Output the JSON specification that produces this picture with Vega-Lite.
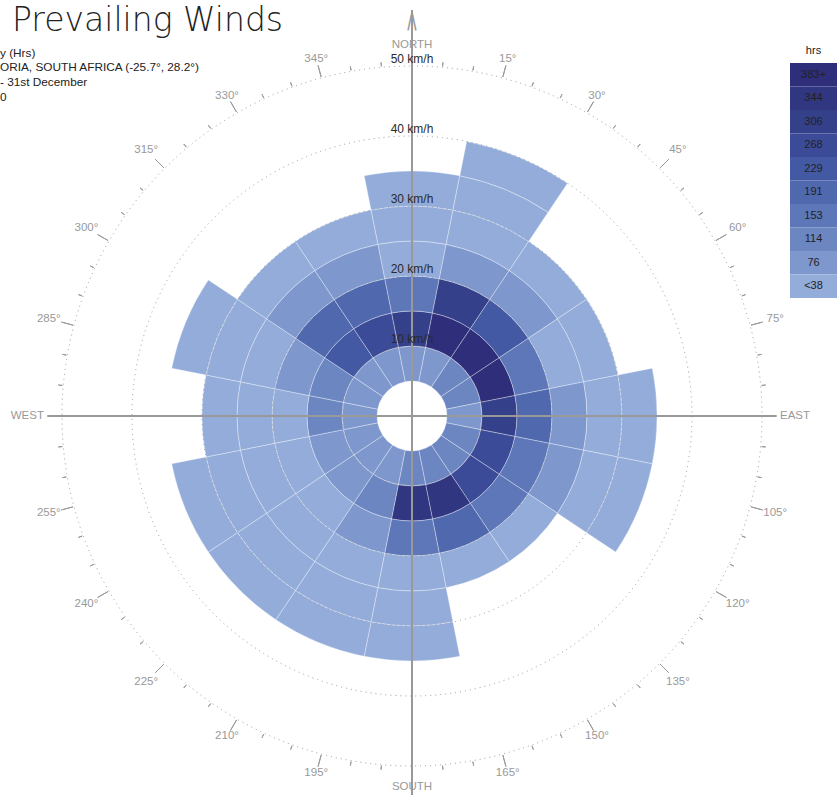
{
  "$schema": "https://vega.github.io/schema/vega-lite/v6.json",
  "width": 824,
  "height": 832,
  "autosize": {"type": "none"},
  "padding": {"left": 0, "top": 0, "right": 13, "bottom": 0},
  "background": "white",
  "config": {"view": {"stroke": null}, "font": "Liberation Sans"},
  "data": {"values": [{}]},
  "datasets": {
    "cells": [
      {"dir": 0, "lo": 5, "hi": 10, "hrs": 62}, {"dir": 0, "lo": 10, "hi": 15, "hrs": 292}, {"dir": 0, "lo": 15, "hi": 20, "hrs": 138}, {"dir": 0, "lo": 20, "hi": 25, "hrs": 34}, {"dir": 0, "lo": 25, "hi": 30, "hrs": 22}, {"dir": 0, "lo": 30, "hi": 35, "hrs": 14},
      {"dir": 22.5, "lo": 5, "hi": 10, "hrs": 70}, {"dir": 22.5, "lo": 10, "hi": 15, "hrs": 420}, {"dir": 22.5, "lo": 15, "hi": 20, "hrs": 300}, {"dir": 22.5, "lo": 20, "hi": 25, "hrs": 56}, {"dir": 22.5, "lo": 25, "hi": 30, "hrs": 30}, {"dir": 22.5, "lo": 30, "hi": 35, "hrs": 20}, {"dir": 22.5, "lo": 35, "hi": 40, "hrs": 12},
      {"dir": 45, "lo": 5, "hi": 10, "hrs": 98}, {"dir": 45, "lo": 10, "hi": 15, "hrs": 398}, {"dir": 45, "lo": 15, "hi": 20, "hrs": 215}, {"dir": 45, "lo": 20, "hi": 25, "hrs": 64}, {"dir": 45, "lo": 25, "hi": 30, "hrs": 28},
      {"dir": 67.5, "lo": 5, "hi": 10, "hrs": 92}, {"dir": 67.5, "lo": 10, "hi": 15, "hrs": 405}, {"dir": 67.5, "lo": 15, "hi": 20, "hrs": 140}, {"dir": 67.5, "lo": 20, "hi": 25, "hrs": 36}, {"dir": 67.5, "lo": 25, "hi": 30, "hrs": 18},
      {"dir": 90, "lo": 5, "hi": 10, "hrs": 72}, {"dir": 90, "lo": 10, "hi": 15, "hrs": 288}, {"dir": 90, "lo": 15, "hi": 20, "hrs": 180}, {"dir": 90, "lo": 20, "hi": 25, "hrs": 58}, {"dir": 90, "lo": 25, "hi": 30, "hrs": 26}, {"dir": 90, "lo": 30, "hi": 35, "hrs": 15},
      {"dir": 112.5, "lo": 5, "hi": 10, "hrs": 96}, {"dir": 112.5, "lo": 10, "hi": 15, "hrs": 255}, {"dir": 112.5, "lo": 15, "hi": 20, "hrs": 148}, {"dir": 112.5, "lo": 20, "hi": 25, "hrs": 45}, {"dir": 112.5, "lo": 25, "hi": 30, "hrs": 30}, {"dir": 112.5, "lo": 30, "hi": 35, "hrs": 16},
      {"dir": 135, "lo": 5, "hi": 10, "hrs": 100}, {"dir": 135, "lo": 10, "hi": 15, "hrs": 262}, {"dir": 135, "lo": 15, "hi": 20, "hrs": 140}, {"dir": 135, "lo": 20, "hi": 25, "hrs": 32},
      {"dir": 157.5, "lo": 5, "hi": 10, "hrs": 94}, {"dir": 157.5, "lo": 10, "hi": 15, "hrs": 330}, {"dir": 157.5, "lo": 15, "hi": 20, "hrs": 190}, {"dir": 157.5, "lo": 20, "hi": 25, "hrs": 28},
      {"dir": 180, "lo": 5, "hi": 10, "hrs": 90}, {"dir": 180, "lo": 10, "hi": 15, "hrs": 325}, {"dir": 180, "lo": 15, "hi": 20, "hrs": 145}, {"dir": 180, "lo": 20, "hi": 25, "hrs": 35}, {"dir": 180, "lo": 25, "hi": 30, "hrs": 24}, {"dir": 180, "lo": 30, "hi": 35, "hrs": 12},
      {"dir": 202.5, "lo": 5, "hi": 10, "hrs": 70}, {"dir": 202.5, "lo": 10, "hi": 15, "hrs": 105}, {"dir": 202.5, "lo": 15, "hi": 20, "hrs": 60}, {"dir": 202.5, "lo": 20, "hi": 25, "hrs": 30}, {"dir": 202.5, "lo": 25, "hi": 30, "hrs": 20}, {"dir": 202.5, "lo": 30, "hi": 35, "hrs": 12},
      {"dir": 225, "lo": 5, "hi": 10, "hrs": 65}, {"dir": 225, "lo": 10, "hi": 15, "hrs": 52}, {"dir": 225, "lo": 15, "hi": 20, "hrs": 33}, {"dir": 225, "lo": 20, "hi": 25, "hrs": 25}, {"dir": 225, "lo": 25, "hi": 30, "hrs": 18}, {"dir": 225, "lo": 30, "hi": 35, "hrs": 10},
      {"dir": 247.5, "lo": 5, "hi": 10, "hrs": 56}, {"dir": 247.5, "lo": 10, "hi": 15, "hrs": 48}, {"dir": 247.5, "lo": 15, "hi": 20, "hrs": 36}, {"dir": 247.5, "lo": 20, "hi": 25, "hrs": 26}, {"dir": 247.5, "lo": 25, "hi": 30, "hrs": 17}, {"dir": 247.5, "lo": 30, "hi": 35, "hrs": 9},
      {"dir": 270, "lo": 5, "hi": 10, "hrs": 66}, {"dir": 270, "lo": 10, "hi": 15, "hrs": 100}, {"dir": 270, "lo": 15, "hi": 20, "hrs": 33}, {"dir": 270, "lo": 20, "hi": 25, "hrs": 22}, {"dir": 270, "lo": 25, "hi": 30, "hrs": 14},
      {"dir": 292.5, "lo": 5, "hi": 10, "hrs": 74}, {"dir": 292.5, "lo": 10, "hi": 15, "hrs": 110}, {"dir": 292.5, "lo": 15, "hi": 20, "hrs": 58}, {"dir": 292.5, "lo": 20, "hi": 25, "hrs": 30}, {"dir": 292.5, "lo": 25, "hi": 30, "hrs": 20}, {"dir": 292.5, "lo": 30, "hi": 35, "hrs": 11},
      {"dir": 315, "lo": 5, "hi": 10, "hrs": 75}, {"dir": 315, "lo": 10, "hi": 15, "hrs": 220}, {"dir": 315, "lo": 15, "hi": 20, "hrs": 185}, {"dir": 315, "lo": 20, "hi": 25, "hrs": 52}, {"dir": 315, "lo": 25, "hi": 30, "hrs": 26},
      {"dir": 337.5, "lo": 5, "hi": 10, "hrs": 68}, {"dir": 337.5, "lo": 10, "hi": 15, "hrs": 255}, {"dir": 337.5, "lo": 15, "hi": 20, "hrs": 182}, {"dir": 337.5, "lo": 20, "hi": 25, "hrs": 55}, {"dir": 337.5, "lo": 25, "hi": 30, "hrs": 27}
    ],
    "rings": [{"km": 10}, {"km": 20}, {"km": 30}, {"km": 40}, {"km": 50}],
    "minor": [{"deg": 5}, {"deg": 10}, {"deg": 20}, {"deg": 25}, {"deg": 35}, {"deg": 40}, {"deg": 50}, {"deg": 55}, {"deg": 65}, {"deg": 70}, {"deg": 80}, {"deg": 85}, {"deg": 95}, {"deg": 100}, {"deg": 110}, {"deg": 115}, {"deg": 125}, {"deg": 130}, {"deg": 140}, {"deg": 145}, {"deg": 155}, {"deg": 160}, {"deg": 170}, {"deg": 175}, {"deg": 185}, {"deg": 190}, {"deg": 200}, {"deg": 205}, {"deg": 215}, {"deg": 220}, {"deg": 230}, {"deg": 235}, {"deg": 245}, {"deg": 250}, {"deg": 260}, {"deg": 265}, {"deg": 275}, {"deg": 280}, {"deg": 290}, {"deg": 295}, {"deg": 305}, {"deg": 310}, {"deg": 320}, {"deg": 325}, {"deg": 335}, {"deg": 340}, {"deg": 350}, {"deg": 355}],
    "major": [{"deg": 15}, {"deg": 30}, {"deg": 45}, {"deg": 60}, {"deg": 75}, {"deg": 105}, {"deg": 120}, {"deg": 135}, {"deg": 150}, {"deg": 165}, {"deg": 195}, {"deg": 210}, {"deg": 225}, {"deg": 240}, {"deg": 255}, {"deg": 285}, {"deg": 300}, {"deg": 315}, {"deg": 330}, {"deg": 345}],
    "speeds": [{"km": 10, "label": "10 km/h"}, {"km": 20, "label": "20 km/h"}, {"km": 30, "label": "30 km/h"}, {"km": 40, "label": "40 km/h"}, {"km": 50, "label": "50 km/h"}],
    "degNear": [{"deg": 15, "lab": "15°"}, {"deg": 30, "lab": "30°"}, {"deg": 150, "lab": "150°"}, {"deg": 165, "lab": "165°"}, {"deg": 195, "lab": "195°"}, {"deg": 210, "lab": "210°"}, {"deg": 330, "lab": "330°"}, {"deg": 345, "lab": "345°"}],
    "degFar": [{"deg": 45, "lab": "45°"}, {"deg": 60, "lab": "60°"}, {"deg": 75, "lab": "75°"}, {"deg": 105, "lab": "105°"}, {"deg": 120, "lab": "120°"}, {"deg": 135, "lab": "135°"}, {"deg": 225, "lab": "225°"}, {"deg": 240, "lab": "240°"}, {"deg": 255, "lab": "255°"}, {"deg": 285, "lab": "285°"}, {"deg": 300, "lab": "300°"}, {"deg": 315, "lab": "315°"}],
    "ns": [{"deg": 0, "lab": "NORTH"}, {"deg": 180, "lab": "SOUTH"}],
    "legend": [
      {"key": "383+", "hrs": 400}, {"key": "344", "hrs": 325}, {"key": "306", "hrs": 290}, {"key": "268", "hrs": 250}, {"key": "229", "hrs": 212},
      {"key": "191", "hrs": 175}, {"key": "153", "hrs": 135}, {"key": "114", "hrs": 96}, {"key": "76", "hrs": 58}, {"key": "<38", "hrs": 20}
    ],
    "subtitle": [
      {"k": "s1", "txt": "y (Hrs)"},
      {"k": "s2", "txt": "ORIA,  SOUTH AFRICA (-25.7°, 28.2°)"},
      {"k": "s3", "txt": "- 31st December"},
      {"k": "s4", "txt": "0"}
    ]
  },
  "resolve": {"scale": {"x": "independent", "y": "independent"}},
  "layer": [
    {
      "data": {"name": "cells"},
      "mark": {"type": "arc", "thetaOffset": -0.19635, "theta2Offset": 0.19635, "stroke": "#ffffff", "strokeWidth": 0.6, "strokeOpacity": 0.55},
      "encoding": {
        "theta": {"field": "dir", "type": "quantitative", "stack": null, "scale": {"type": "linear", "domain": [0, 360], "range": [0, 6.283185307179586], "zero": false, "nice": false}},
        "theta2": {"field": "dir"},
        "radius": {"field": "hi", "type": "quantitative", "scale": {"type": "linear", "domain": [0, 50], "range": [0, 350], "zero": true, "nice": false}},
        "radius2": {"field": "lo"},
        "color": {"field": "hrs", "type": "quantitative", "legend": null, "scale": {"type": "threshold", "domain": [38.3, 76.6, 114.9, 153.2, 191.5, 229.8, 268.1, 306.4, 344.7], "range": ["#93acda", "#7e98ce", "#6c86c2", "#5d77b8", "#5068ae", "#4459a4", "#3c4b98", "#35408a", "#313681", "#2e2e7b"]}}
      }
    },
    {
      "data": {"name": "rings"},
      "mark": {"type": "arc", "filled": false, "stroke": "#999999", "strokeWidth": 1, "strokeDash": [1, 4]},
      "encoding": {
        "theta": {"datum": 0, "type": "quantitative", "stack": null, "scale": {"type": "linear", "domain": [0, 360], "range": [0, 6.283185307179586], "zero": false, "nice": false}},
        "theta2": {"datum": 360},
        "radius": {"field": "km", "type": "quantitative", "scale": {"type": "linear", "domain": [0, 50], "range": [0, 350], "zero": true, "nice": false}},
        "radius2": {"datum": 0}
      }
    },
    {
      "data": {"name": "minor"},
      "mark": {"type": "arc", "filled": false, "stroke": "#999999", "strokeWidth": 1, "radiusOffset": 5, "radius2Offset": 1},
      "encoding": {
        "theta": {"field": "deg", "type": "quantitative", "stack": null, "scale": {"type": "linear", "domain": [0, 360], "range": [0, 6.283185307179586], "zero": false, "nice": false}},
        "theta2": {"field": "deg"},
        "radius": {"datum": 50, "type": "quantitative", "scale": {"type": "linear", "domain": [0, 50], "range": [0, 350], "zero": true, "nice": false}},
        "radius2": {"datum": 50}
      }
    },
    {
      "data": {"name": "major"},
      "mark": {"type": "arc", "filled": false, "stroke": "#999999", "strokeWidth": 1, "radiusOffset": 13, "radius2Offset": 1},
      "encoding": {
        "theta": {"field": "deg", "type": "quantitative", "stack": null, "scale": {"type": "linear", "domain": [0, 360], "range": [0, 6.283185307179586], "zero": false, "nice": false}},
        "theta2": {"field": "deg"},
        "radius": {"datum": 50, "type": "quantitative", "scale": {"type": "linear", "domain": [0, 50], "range": [0, 350], "zero": true, "nice": false}},
        "radius2": {"datum": 50}
      }
    },
    {
      "mark": {"type": "arc", "filled": false, "stroke": "#999999", "strokeWidth": 2},
      "encoding": {
        "theta": {"datum": 0, "type": "quantitative", "stack": null, "scale": {"type": "linear", "domain": [0, 360], "range": [0, 6.283185307179586], "zero": false, "nice": false}},
        "theta2": {"datum": 0},
        "radius": {"datum": 58, "type": "quantitative", "scale": {"type": "linear", "domain": [0, 50], "range": [0, 350], "zero": true, "nice": false}},
        "radius2": {"datum": 0}
      }
    },
    {
      "mark": {"type": "arc", "filled": false, "stroke": "#999999", "strokeWidth": 2},
      "encoding": {
        "theta": {"datum": 180, "type": "quantitative", "stack": null, "scale": {"type": "linear", "domain": [0, 360], "range": [0, 6.283185307179586], "zero": false, "nice": false}},
        "theta2": {"datum": 180},
        "radius": {"datum": 56, "type": "quantitative", "scale": {"type": "linear", "domain": [0, 50], "range": [0, 350], "zero": true, "nice": false}},
        "radius2": {"datum": 0}
      }
    },
    {
      "mark": {"type": "arc", "filled": false, "stroke": "#999999", "strokeWidth": 2},
      "encoding": {
        "theta": {"datum": 90, "type": "quantitative", "stack": null, "scale": {"type": "linear", "domain": [0, 360], "range": [0, 6.283185307179586], "zero": false, "nice": false}},
        "theta2": {"datum": 90},
        "radius": {"datum": 52.1, "type": "quantitative", "scale": {"type": "linear", "domain": [0, 50], "range": [0, 350], "zero": true, "nice": false}},
        "radius2": {"datum": 0}
      }
    },
    {
      "mark": {"type": "arc", "filled": false, "stroke": "#999999", "strokeWidth": 2},
      "encoding": {
        "theta": {"datum": 270, "type": "quantitative", "stack": null, "scale": {"type": "linear", "domain": [0, 360], "range": [0, 6.283185307179586], "zero": false, "nice": false}},
        "theta2": {"datum": 270},
        "radius": {"datum": 52.1, "type": "quantitative", "scale": {"type": "linear", "domain": [0, 50], "range": [0, 350], "zero": true, "nice": false}},
        "radius2": {"datum": 0}
      }
    },
    {
      "mark": {"type": "text", "text": "|", "fontSize": 18, "color": "#999999", "align": "center", "baseline": "middle", "angle": 12},
      "encoding": {
        "theta": {"datum": 359.7, "type": "quantitative", "scale": {"type": "linear", "domain": [0, 360], "range": [0, 6.283185307179586], "zero": false, "nice": false}},
        "radius": {"datum": 56.3, "type": "quantitative", "scale": {"type": "linear", "domain": [0, 50], "range": [0, 350], "zero": true, "nice": false}}
      }
    },
    {
      "mark": {"type": "text", "text": "|", "fontSize": 18, "color": "#999999", "align": "center", "baseline": "middle", "angle": -12},
      "encoding": {
        "theta": {"datum": 0.3, "type": "quantitative", "scale": {"type": "linear", "domain": [0, 360], "range": [0, 6.283185307179586], "zero": false, "nice": false}},
        "radius": {"datum": 56.3, "type": "quantitative", "scale": {"type": "linear", "domain": [0, 50], "range": [0, 350], "zero": true, "nice": false}}
      }
    },
    {
      "data": {"name": "speeds"},
      "mark": {"type": "text", "fontSize": 12, "color": "#2a2a2a", "align": "center", "baseline": "middle", "radiusOffset": 7},
      "encoding": {
        "theta": {"datum": 0, "type": "quantitative", "scale": {"type": "linear", "domain": [0, 360], "range": [0, 6.283185307179586], "zero": false, "nice": false}},
        "radius": {"field": "km", "type": "quantitative", "scale": {"type": "linear", "domain": [0, 50], "range": [0, 350], "zero": true, "nice": false}},
        "text": {"field": "label"}
      }
    },
    {
      "data": {"name": "degNear"},
      "mark": {"type": "text", "fontSize": 11.5, "color": "#999999", "align": "center", "baseline": "middle", "radiusOffset": 20},
      "encoding": {
        "theta": {"field": "deg", "type": "quantitative", "scale": {"type": "linear", "domain": [0, 360], "range": [0, 6.283185307179586], "zero": false, "nice": false}},
        "radius": {"datum": 50, "type": "quantitative", "scale": {"type": "linear", "domain": [0, 50], "range": [0, 350], "zero": true, "nice": false}},
        "text": {"field": "lab"}
      }
    },
    {
      "data": {"name": "degFar"},
      "mark": {"type": "text", "fontSize": 11.5, "color": "#999999", "align": "center", "baseline": "middle", "radiusOffset": 26},
      "encoding": {
        "theta": {"field": "deg", "type": "quantitative", "scale": {"type": "linear", "domain": [0, 360], "range": [0, 6.283185307179586], "zero": false, "nice": false}},
        "radius": {"datum": 50, "type": "quantitative", "scale": {"type": "linear", "domain": [0, 50], "range": [0, 350], "zero": true, "nice": false}},
        "text": {"field": "lab"}
      }
    },
    {
      "data": {"name": "ns"},
      "mark": {"type": "text", "fontSize": 11.5, "color": "#999999", "align": "center", "baseline": "middle", "radiusOffset": 21},
      "encoding": {
        "theta": {"field": "deg", "type": "quantitative", "scale": {"type": "linear", "domain": [0, 360], "range": [0, 6.283185307179586], "zero": false, "nice": false}},
        "radius": {"datum": 50, "type": "quantitative", "scale": {"type": "linear", "domain": [0, 50], "range": [0, 350], "zero": true, "nice": false}},
        "text": {"field": "lab"}
      }
    },
    {
      "mark": {"type": "text", "text": "EAST", "fontSize": 11.5, "color": "#999999", "align": "left", "baseline": "middle", "radiusOffset": 18},
      "encoding": {
        "theta": {"datum": 90, "type": "quantitative", "scale": {"type": "linear", "domain": [0, 360], "range": [0, 6.283185307179586], "zero": false, "nice": false}},
        "radius": {"datum": 50, "type": "quantitative", "scale": {"type": "linear", "domain": [0, 50], "range": [0, 350], "zero": true, "nice": false}}
      }
    },
    {
      "mark": {"type": "text", "text": "WEST", "fontSize": 11.5, "color": "#999999", "align": "right", "baseline": "middle", "radiusOffset": 18},
      "encoding": {
        "theta": {"datum": 270, "type": "quantitative", "scale": {"type": "linear", "domain": [0, 360], "range": [0, 6.283185307179586], "zero": false, "nice": false}},
        "radius": {"datum": 50, "type": "quantitative", "scale": {"type": "linear", "domain": [0, 50], "range": [0, 350], "zero": true, "nice": false}}
      }
    },
    {
      "data": {"name": "legend"},
      "mark": {"type": "rect"},
      "encoding": {
        "x": {"datum": "hrs", "type": "nominal", "axis": null, "scale": {"type": "band", "domain": ["hrs"], "range": [790, 837], "paddingInner": 0, "paddingOuter": 0}},
        "y": {"field": "key", "type": "ordinal", "axis": null, "scale": {"type": "band", "domain": ["hdr", "383+", "344", "306", "268", "229", "191", "153", "114", "76", "<38"], "range": [39.5, 298], "paddingInner": 0, "paddingOuter": 0}},
        "color": {"field": "hrs", "type": "quantitative", "legend": null, "scale": {"type": "threshold", "domain": [38.3, 76.6, 114.9, 153.2, 191.5, 229.8, 268.1, 306.4, 344.7], "range": ["#93acda", "#7e98ce", "#6c86c2", "#5d77b8", "#5068ae", "#4459a4", "#3c4b98", "#35408a", "#313681", "#2e2e7b"]}}
      }
    },
    {
      "data": {"name": "legend"},
      "mark": {"type": "text", "fontSize": 11, "color": "#222222", "align": "center", "baseline": "middle"},
      "encoding": {
        "x": {"datum": "hrs", "type": "nominal", "axis": null, "scale": {"type": "band", "domain": ["hrs"], "range": [790, 837], "paddingInner": 0, "paddingOuter": 0}},
        "y": {"field": "key", "type": "ordinal", "axis": null, "scale": {"type": "band", "domain": ["hdr", "383+", "344", "306", "268", "229", "191", "153", "114", "76", "<38"], "range": [39.5, 298], "paddingInner": 0, "paddingOuter": 0}},
        "text": {"field": "key"}
      }
    },
    {
      "mark": {"type": "text", "text": "hrs", "fontSize": 11, "color": "#222222", "align": "center", "baseline": "middle"},
      "encoding": {
        "x": {"datum": "hrs", "type": "nominal", "axis": null, "scale": {"type": "band", "domain": ["hrs"], "range": [790, 837], "paddingInner": 0, "paddingOuter": 0}},
        "y": {"datum": "hdr", "type": "ordinal", "axis": null, "scale": {"type": "band", "domain": ["hdr", "383+", "344", "306", "268", "229", "191", "153", "114", "76", "<38"], "range": [39.5, 298], "paddingInner": 0, "paddingOuter": 0}}
      }
    },
    {
      "mark": {"type": "text", "text": "Prevailing Winds", "font": "DejaVu Sans", "fontWeight": 200, "fontSize": 33, "color": "#222222", "align": "left", "baseline": "alphabetic"},
      "encoding": {
        "x": {"datum": "t", "type": "nominal", "axis": null, "scale": {"type": "point", "domain": ["t"], "range": [12, 12], "padding": 0}},
        "y": {"datum": "t", "type": "nominal", "axis": null, "scale": {"type": "point", "domain": ["t"], "range": [31, 31], "padding": 0}}
      }
    },
    {
      "data": {"name": "subtitle"},
      "mark": {"type": "text", "fontSize": 11.8, "color": "#222222", "align": "left", "baseline": "alphabetic"},
      "encoding": {
        "x": {"datum": "s", "type": "nominal", "axis": null, "scale": {"type": "point", "domain": ["s"], "range": [0, 0], "padding": 0}},
        "y": {"field": "k", "type": "nominal", "axis": null, "scale": {"type": "point", "domain": ["s1", "s2", "s3", "s4"], "range": [56.5, 101], "padding": 0}},
        "text": {"field": "txt"}
      }
    }
  ]
}
